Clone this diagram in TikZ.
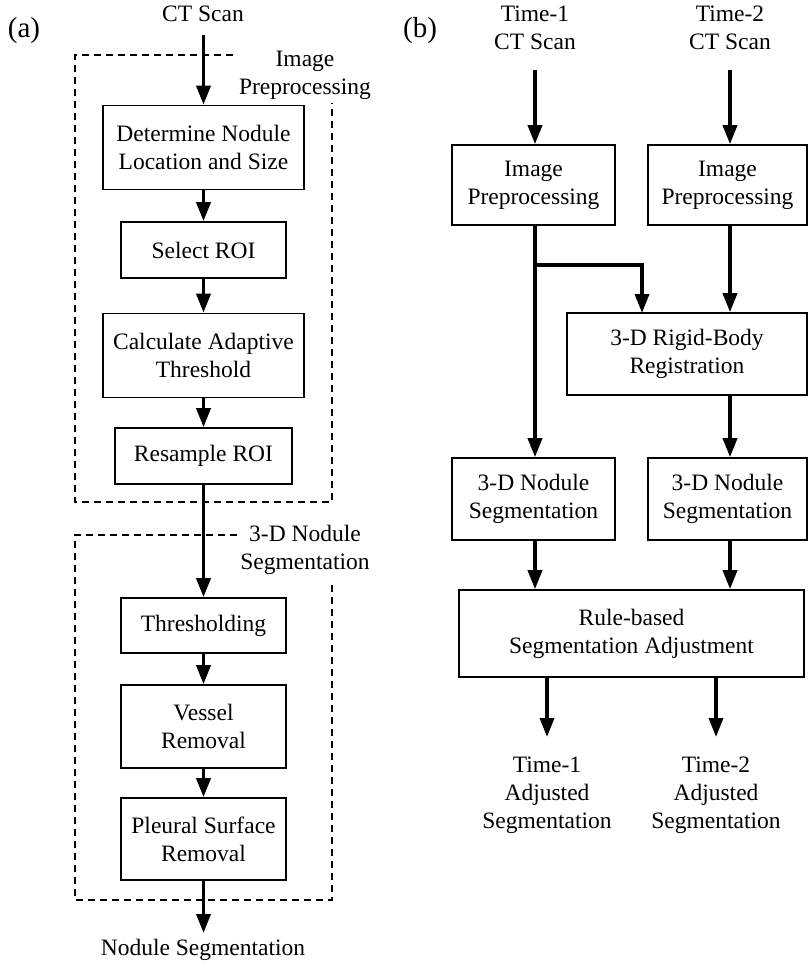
\documentclass[tikz,border=0pt]{standalone}
\usepackage{fontspec}
\setmainfont{Liberation Serif}
\usetikzlibrary{arrows.meta,calc}
\begin{document}
\begin{tikzpicture}[x=1pt,y=-1pt,
  every node/.style={font=\fontsize{23.5}{28}\selectfont, align=center, inner sep=0pt},
  panel/.style={font=\fontsize{29}{34}\selectfont},
  pbox/.style={draw, line width=1.6pt, minimum width=#1, minimum height=84},
  flow/.style={line width=3.6pt, -{Triangle[length=19pt,width=14pt]}},
  grp/.style={line width=1.4pt, dash pattern=on 7pt off 5pt}]
\useasboundingbox (0,0) rectangle (808,968);
% ---------- panel (a)
\node[panel] (la) at (24,31) {(a)};
\node (ct) at (203,14) {CT Scan};
\node[pbox=201] (a1) at (203.5,147.5) {Determine Nodule\\Location and Size};
\node[pbox=165, minimum height=56] (a2) at (203.5,250) {Select ROI};
\node[pbox=201] (a3) at (203.5,355.5) {Calculate Adaptive\\Threshold};
\node[pbox=177, minimum height=56] (a4) at (203.5,456) {Resample ROI};
\node[pbox=165, minimum height=55] (a5) at (203.5,625.5) {Thresholding};
\node[pbox=165, minimum height=83] (a6) at (203.5,726.5) {Vessel\\Removal};
\node[pbox=165, minimum height=82] (a7) at (203.5,839) {Pleural Surface\\Removal};
\node (out) at (203,950) {Nodule Segmentation};
\node (g1) at (305,75) {Image\\Preprocessing};
\node (g2) at (305,550) {3-D Nodule\\Segmentation};
\coordinate (g1a) at (233,55); \coordinate (g1b) at (75,55);
\coordinate (g1c) at (75,502); \coordinate (g1d) at (332,502); \coordinate (g1e) at (332,103);
\coordinate (g2a) at (237,535); \coordinate (g2b) at (75,535);
\coordinate (g2c) at (75,900); \coordinate (g2d) at (332,900); \coordinate (g2e) at (332,585);
\draw[grp] (g1a) -- (g1b) -- (g1c) -- (g1d) -- (g1e);
\draw[grp] (g2a) -- (g2b) -- (g2c) -- (g2d) -- (g2e);
\coordinate (cts) at (203.5,35);
\draw[flow] (cts) -- (a1.north);
\draw[flow] (a1) -- (a2);
\draw[flow] (a2) -- (a3);
\draw[flow] (a3) -- (a4);
\draw[flow] (a4) -- (a5);
\draw[flow] (a5) -- (a6);
\draw[flow] (a6) -- (a7);
\coordinate (outn) at (203.5,933);
\draw[flow] (a7) -- (outn);
% ---------- panel (b)
\node[panel] (lb) at (420,31) {(b)};
\node (t1) at (535,28) {Time-1\\CT Scan};
\node (t2) at (730,28) {Time-2\\CT Scan};
\node[pbox=163, minimum height=80] (p1) at (533.5,185) {Image\\Preprocessing};
\node[pbox=159, minimum height=80] (p2) at (727.5,185) {Image\\Preprocessing};
\node[pbox=240, minimum height=82] (reg) at (687,354) {3-D Rigid-Body\\Registration};
\node[pbox=163, minimum height=82] (s1) at (533.5,499) {3-D Nodule\\Segmentation};
\node[pbox=159, minimum height=82] (s2) at (727.5,499) {3-D Nodule\\Segmentation};
\node[pbox=345, minimum height=87] (rb) at (631.5,633.5) {Rule-based\\Segmentation Adjustment};
\node (o1) at (547,795) {Time-1\\Adjusted\\Segmentation};
\node (o2) at (716,795) {Time-2\\Adjusted\\Segmentation};
\coordinate (t1s) at (535,70); \coordinate (t2s) at (730,70);
\draw[flow] (t1s) -- (t1s |- p1.north);
\draw[flow] (t2s) -- (t2s |- p2.north);
\draw[flow] (p1.south -| t1s) -- (s1.north -| t1s);
\coordinate (br) at (535,265);
\coordinate (rt) at (642,313);
\draw[flow] (br) -| (rt);
\draw[flow] (p2.south -| t2s) -- (reg.north -| t2s);
\draw[flow] (reg.south -| t2s) -- (s2.north -| t2s);
\draw[flow] (s1.south -| t1s) -- (rb.north -| t1s);
\draw[flow] (s2.south -| t2s) -- (rb.north -| t2s);
\coordinate (r1) at (547,737); \coordinate (r2) at (716,737);
\draw[flow] (rb.south -| r1) -- (r1);
\draw[flow] (rb.south -| r2) -- (r2);
\end{tikzpicture}
\end{document}
